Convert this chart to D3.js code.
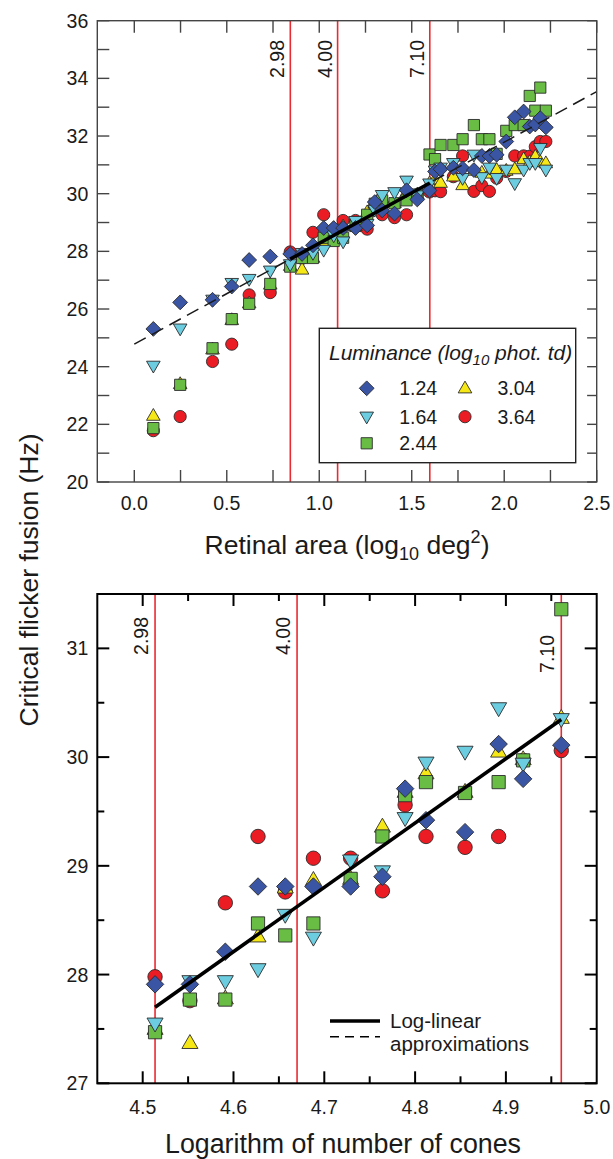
<!DOCTYPE html>
<html><head><meta charset="utf-8">
<script src="https://cdn.jsdelivr.net/npm/d3@7/dist/d3.min.js"></script>
<style>
html,body{margin:0;padding:0;background:#fff;}
svg text{font-family:"Liberation Sans",Arial,Helvetica,sans-serif;fill:#1a1a1a;}
</style></head>
<body>
<svg id="c" width="613" height="1159"></svg>
<script>
// ---------- DATA ----------
const luminances = ["1.24", "1.64", "2.44", "3.04", "3.64"];
const diameters = [2.98, 4.00, 7.10];            // deg, red reference lines
const diameterLabels = ["2.98", "4.00", "7.10"];

// Top chart: retinal area (log10 deg^2)
const areaX = [0.103, 0.248, 0.423, 0.527, 0.621, 0.735,
  0.843, 0.907, 0.966, 1.024, 1.078, 1.129, 1.196, 1.259, 1.300, 1.340, 1.407, 1.472, 1.530, 1.596,
  1.626, 1.656, 1.725, 1.775, 1.836, 1.879, 1.920, 1.959, 2.011, 2.057, 2.105, 2.138, 2.168, 2.195, 2.225];

const cff124 = [25.31, 26.23, 26.32, 26.78, 27.70, 27.82,
  27.91, 27.91, 28.21, 28.81, 28.81, 28.81, 28.81, 28.90, 29.71, 29.42, 29.31, 30.12, 29.80, 30.11,
  30.77, 30.85, 30.90, 30.88, 30.82, 31.31, 31.31, 31.35, 31.81, 32.65, 32.85, 32.33, 32.40, 32.62, 32.30];
const cff164 = [24.03, 25.32, 26.32, 26.90, 27.04, 27.33,
  27.55, 27.94, 27.94, 28.05, 28.55, 28.34, 29.05, 28.95, 29.44, 29.95, 30.05, 30.45, 29.94, 30.35,
  30.80, 30.90, 31.06, 30.54, 31.35, 30.57, 30.90, 30.54, 30.83, 30.36, 30.83, 31.06, 31.06, 31.58, 30.83];
const cff244 = [21.87, 23.37, 24.64, 25.65, 26.18, 26.87,
  27.47, 27.77, 27.77, 28.47, 28.36, 28.47, 28.88, 29.27, 29.65, 29.77, 29.67, 29.77, 29.97, 31.36,
  31.20, 31.69, 31.69, 31.89, 32.38, 31.89, 31.89, 31.38, 32.18, 32.38, 32.38, 33.39, 32.88, 33.68, 32.88];
const cff304 = [22.30, 23.40, 24.60, 25.62, 26.20, 26.85,
  27.50, 27.37, 27.78, 28.35, 28.80, 28.87, 28.88, 29.36, 29.68, 29.85, 29.68, 30.05, 29.98, 30.36,
  30.50, 30.38, 30.60, 30.30, 30.80, 30.73, 30.70, 30.83, 30.80, 30.85, 31.20, 31.10, 31.29, 31.10, 31.06];
const cff364 = [21.78, 22.27, 24.18, 24.78, 26.49, 26.57,
  27.98, 27.76, 28.66, 29.27, 28.76, 29.07, 29.07, 28.77, 29.56, 29.27, 29.17, 29.27, 29.97, 30.06,
  30.10, 30.07, 30.59, 31.31, 30.08, 30.28, 30.08, 30.54, 30.77, 31.31, 31.31, 31.30, 31.63, 31.81, 31.81];

// Bottom chart: log number of cones for the points between the 2.98 and 7.10 lines
const conesX = [4.5136, 4.552, 4.591, 4.627, 4.657, 4.688, 4.729, 4.764, 4.789, 4.812, 4.855, 4.892, 4.919, 4.961];
const conesLines = [4.5136, 4.670, 4.961];
const firstCone = 6;  // index in areaX of first point of bottom chart

// Fits
const topDashX = [0.0, 2.5],  topDashY = [24.78, 33.54];
const topSolidX = [0.843, 1.598], topSolidY = [27.73, 30.37];
const botSolidX = [4.5136, 4.961], botSolidY = [27.70, 30.346];

// ticks
const topXTicks = [0.0, 0.5, 1.0, 1.5, 2.0, 2.5];
const topYTicks = [20, 22, 24, 26, 28, 30, 32, 34, 36];
const botXTicks = [4.5, 4.6, 4.7, 4.8, 4.9, 5.0];
const botYTicks = [27, 28, 29, 30, 31];

// ---------- STYLE ----------
const series = [
  {name: luminances[4], vals: cff364, shape: "circle",  fill: "#ec1c24"},
  {name: luminances[3], vals: cff304, shape: "triUp",   fill: "#f6e816"},
  {name: luminances[2], vals: cff244, shape: "square",  fill: "#69bd45"},
  {name: luminances[1], vals: cff164, shape: "triDown", fill: "#6dcde0"},
  {name: luminances[0], vals: cff124, shape: "diamond", fill: "#3a55a4"}
];
const RED = "#ea2a2f";

function markerPath(shape) {
  switch (shape) {
    case "circle": return "M6.1,0A6.1,6.1 0 1 1 -6.1,0A6.1,6.1 0 1 1 6.1,0Z";
    case "square": return "M-5.6,-5.6H5.6V5.6H-5.6Z";
    case "diamond": return "M0,-7.4L7.4,0L0,7.4L-7.4,0Z";
    case "triUp": return "M0,-7.2L6.8,4.6L-6.8,4.6Z";
    case "triDown": return "M0,7.2L6.8,-4.6L-6.8,-4.6Z";
  }
}

const svg = d3.select("#c");

function drawPanel(opt) {
  const g = svg.append("g");
  const x = d3.scaleLinear().domain(opt.xDom).range([opt.L, opt.R]);
  const y = d3.scaleLinear().domain(opt.yDom).range([opt.B, opt.T]);

  // red reference lines
  opt.refX.forEach((v, i) => {
    g.append("line").attr("x1", x(v)).attr("x2", x(v)).attr("y1", opt.T).attr("y2", opt.B)
      .attr("stroke", RED).attr("stroke-width", 1.6);
    g.append("text").attr("transform", `translate(${x(v) - opt.refOff},${opt.refY[i]}) rotate(-90)`)
      .attr("text-anchor", "end").attr("font-size", 19.5).text(diameterLabels[i]);
  });

  // markers
  series.forEach(s => {
    const pts = opt.xs.map((xv, i) => [xv, s.vals[i + opt.offset]]).filter(p => p[1] != null);
    g.append("g").selectAll("path").data(pts).join("path")
      .attr("transform", d => `translate(${x(d[0])},${y(d[1])}) scale(${opt.mk})`)
      .attr("d", markerPath(s.shape))
      .attr("fill", s.fill).attr("stroke", "#2b2b2b").attr("stroke-width", 0.9 / opt.mk);
  });

  // fit lines
  const line = d3.line().x(d => x(d[0])).y(d => y(d[1]));
  if (opt.dash) {
    g.append("path").datum(opt.dash[0].map((v, i) => [v, opt.dash[1][i]])).attr("d", line)
      .attr("fill", "none").attr("stroke", "#1a1a1a").attr("stroke-width", 1.5).attr("stroke-dasharray", "13,7");
  }
  g.append("path").datum(opt.solid[0].map((v, i) => [v, opt.solid[1][i]])).attr("d", line)
    .attr("fill", "none").attr("stroke", "#000").attr("stroke-width", 3.6);

  // frame
  g.append("rect").attr("x", opt.L).attr("y", opt.T).attr("width", opt.R - opt.L).attr("height", opt.B - opt.T)
    .attr("fill", "none").attr("stroke", opt.frameColor).attr("stroke-width", opt.frameW);

  // ticks
  const tk = (x1, y1, x2, y2) => g.append("line").attr("x1", x1).attr("y1", y1).attr("x2", x2).attr("y2", y2)
    .attr("stroke", opt.frameColor).attr("stroke-width", opt.frameW);
  opt.xTickVals.forEach(t => {
    const len = opt.isMajorX(t) ? 12 : opt.minorLen;
    tk(x(t), opt.B, x(t), opt.B - len);
    tk(x(t), opt.T, x(t), opt.T + len);
  });
  opt.yTickVals.forEach(t => {
    const len = opt.isMajorY(t) ? 12 : opt.minorLen;
    tk(opt.L, y(t), opt.L + len, y(t));
    tk(opt.R, y(t), opt.R - len * opt.rightScale, y(t));
  });

  // labels
  g.append("g").selectAll("text").data(opt.xLabels).join("text")
    .attr("x", d => x(d)).attr("y", opt.xLabelY).attr("text-anchor", "middle")
    .attr("font-size", 19.5).text(d => d.toFixed(1));
  g.append("g").selectAll("text").data(opt.yLabels).join("text")
    .attr("x", opt.L - 9).attr("y", d => y(d) + 7).attr("text-anchor", "end")
    .attr("font-size", 19.5).text(d => d);
  return {x, y};
}

// helper to build tick value lists
const range = (a, b, s) => d3.range(Math.round((b - a) / s) + 1).map(i => +(a + i * s).toFixed(4));

// TOP PANEL
const topPanel = drawPanel({
  L: 97.3, R: 596.7, T: 20.7, B: 482,
  xDom: [-0.2, 2.5], yDom: [20, 36],
  refX: diameters.map(d => Math.log10(Math.PI * d * d / 4)),
  refY: [40, 40, 40], refOff: 6,
  xs: areaX, offset: 0, mk: 1,
  dash: [topDashX, topDashY], solid: [topSolidX, topSolidY],
  frameColor: "#444", frameW: 1.4,
  xTickVals: range(0, 2.5, 0.25), isMajorX: () => true,
  yTickVals: range(20, 36, 1), isMajorY: () => true, minorLen: 12, rightScale: 0.8,
  xLabels: topXTicks, yLabels: topYTicks, xLabelY: 510
});

// BOTTOM PANEL
const botPanel = drawPanel({
  L: 97.3, R: 596.7, T: 594, B: 1083.3,
  xDom: [4.45, 5.0], yDom: [27, 31.5],
  refX: conesLines,
  refY: [617, 617, 635], refOff: 7,
  xs: conesX, offset: firstCone, mk: 1.18,
  dash: null, solid: [botSolidX, botSolidY],
  frameColor: "#000", frameW: 2,
  xTickVals: range(4.5, 4.95, 0.05), isMajorX: t => Math.abs(t * 10 - Math.round(t * 10)) < 1e-6,
  yTickVals: range(27, 31.5, 0.5), isMajorY: t => Number.isInteger(t), minorLen: 7, rightScale: 1,
  xLabels: botXTicks, yLabels: botYTicks, xLabelY: 1113.5
});

// ---------- TITLES ----------
const t1 = svg.append("text").attr("x", 347).attr("y", 554).attr("text-anchor", "middle").attr("font-size", 26.5);
t1.append("tspan").text("Retinal area (log");
t1.append("tspan").attr("font-size", 18).attr("dy", 6).text("10");
t1.append("tspan").attr("dy", -6).text(" deg");
t1.append("tspan").attr("font-size", 18).attr("dy", -11).text("2");
t1.append("tspan").attr("dy", 11).text(")");

svg.append("text").attr("x", 343).attr("y", 1153).attr("text-anchor", "middle").attr("font-size", 26.8)
  .text("Logarithm of number of cones");

svg.append("text").attr("transform", "translate(38,580) rotate(-90)").attr("text-anchor", "middle")
  .attr("font-size", 26.5).text("Critical flicker fusion (Hz)");

// ---------- TOP LEGEND ----------
const lg = svg.append("g");
lg.append("rect").attr("x", 319.3).attr("y", 328.3).attr("width", 256.4).attr("height", 134.4)
  .attr("fill", "#fff").attr("stroke", "#222").attr("stroke-width", 1.4);
const lt = lg.append("text").attr("x", 329).attr("y", 360).attr("font-size", 21).attr("font-style", "italic");
lt.append("tspan").text("Luminance (log");
lt.append("tspan").attr("font-size", 15).attr("dy", 5).text("10");
lt.append("tspan").attr("dy", -5).text(" phot. td)");
const legendItems = [
  {s: series[4], cx: 366.7, cy: 388.3},
  {s: series[3], cx: 366.7, cy: 416.7},
  {s: series[2], cx: 366.7, cy: 443.3},
  {s: series[1], cx: 465, cy: 388.3},
  {s: series[0], cx: 465, cy: 416.7}
];
legendItems.forEach(it => {
  lg.append("path").attr("transform", `translate(${it.cx},${it.cy})`).attr("d", markerPath(it.s.shape))
    .attr("fill", it.s.fill).attr("stroke", "#2b2b2b").attr("stroke-width", 0.9);
  lg.append("text").attr("x", it.cx + 32.5).attr("y", it.cy + 7).attr("font-size", 19.5).text(it.s.name);
});

// ---------- BOTTOM LEGEND ----------
const lb = svg.append("g");
lb.append("line").attr("x1", 330).attr("x2", 380).attr("y1", 1021).attr("y2", 1021)
  .attr("stroke", "#000").attr("stroke-width", 3.6);
lb.append("line").attr("x1", 330).attr("x2", 380).attr("y1", 1036.7).attr("y2", 1036.7)
  .attr("stroke", "#000").attr("stroke-width", 1.5).attr("stroke-dasharray", "9,6");
lb.append("text").attr("x", 390).attr("y", 1028).attr("font-size", 20.5).text("Log-linear");
lb.append("text").attr("x", 390).attr("y", 1051).attr("font-size", 20.5).text("approximations");
</script>
</body></html>
